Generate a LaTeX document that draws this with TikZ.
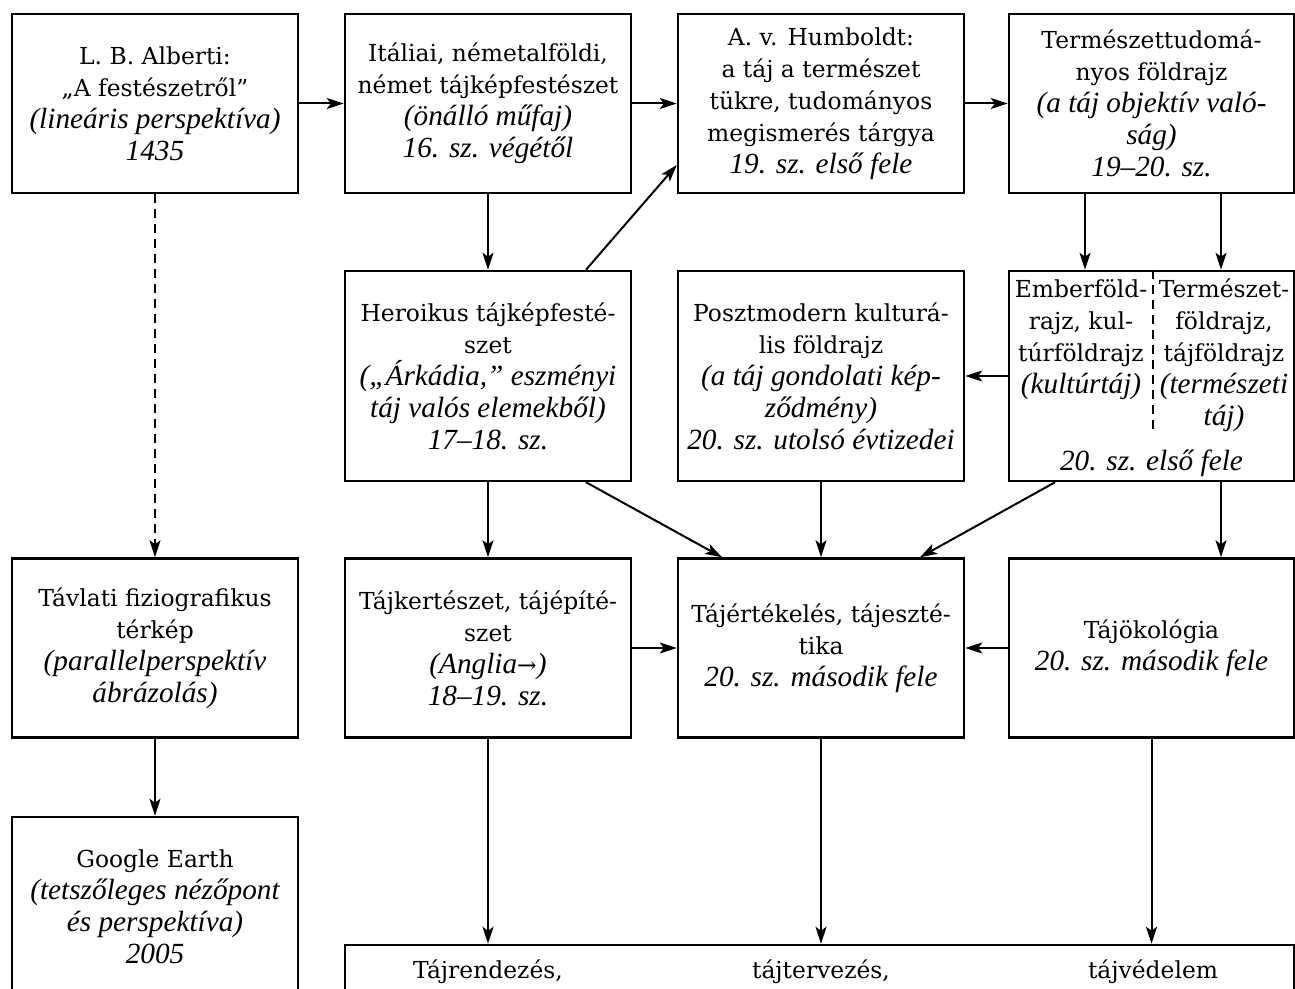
\documentclass[tikz,border=0pt]{standalone}
\usepackage{fontspec}
\setmainfont{DejaVu Serif}
\newfontfamily\itfam{Liberation Serif}[Scale=1.25,Ligatures=TeX]
\newcommand\ital[1]{{\itfam\itshape #1}}
\usetikzlibrary{arrows.meta,calc}
\begin{document}
\begin{tikzpicture}[x=0.5pt,y=-0.5pt,
  font=\fontsize{11.7}{16}\selectfont,
  box/.style={draw, line width=1.25pt, minimum width=143pt, minimum height=89.5pt, align=center, inner sep=0pt},
  tallbox/.style={box, minimum height=105pt},
  txt/.style={align=center, inner sep=0pt},
  arr/.style={line width=1pt, -{Stealth[length=8.5pt,width=5.5pt,inset=2pt]}},
  dashline/.style={dash pattern=on 4.5pt off 3pt}]
\useasboundingbox (0,0) rectangle (1295,989);
\clip (0,0) rectangle (1295,989);
% row 1
\node[box] (A) at (155,103.5) {L. B. Alberti:\\„A festészetről”\\\ital{(lineáris perspektíva)}\\\ital{1435}};
\node[box] (B) at (488,103.5) {Itáliai, németalföldi,\\német tájképfestészet\\\ital{(önálló műfaj)}\\\ital{16. sz. végétől}};
\node[box] (C) at (821,103.5) {A. v. Humboldt:\\a táj a természet\\tükre, tudományos\\megismerés tárgya\\\ital{19. sz. első fele}};
\node[box, minimum width=142.5pt] (D) at (1151.5,103.5) {Természettudomá-\\nyos földrajz\\\ital{(a táj objektív való-}\\\ital{ság)}\\\ital{19–20. sz.}};
% row 2
\node[tallbox] (E) at (488,376) {Heroikus tájképfesté-\\szet\\\ital{(„Árkádia,” eszményi}\\\ital{táj valós elemekből)}\\\ital{17–18. sz.}};
\node[tallbox] (F) at (821,376) {Posztmodern kulturá-\\lis földrajz\\\ital{(a táj gondolati kép-}\\\ital{ződmény)}\\\ital{20. sz. utolsó évtizedei}};
\node[tallbox, minimum width=142.5pt] (G) at (1151.5,376) {};
\node[txt] (Gl) at (1081,339.5) {Emberföld-\\rajz, kul-\\túrföldrajz\\\ital{(kultúrtáj)}};
\node[txt] (Gr) at (1224,355) {Természet-\\földrajz,\\tájföldrajz\\\ital{(természeti}\\\ital{táj)}};
\node[txt] (Gb) at (1151.5,463) {\ital{20. sz. első fele}};
\draw[dashline, line width=1pt] ($(G.north)+(1.5,0)$) coordinate (gtop) -- ($(G.north)+(1.5,164)$) coordinate (gbot);
% row 3
\node[box] (H) at (155,648) {Távlati fiziografikus\\térkép\\\ital{(parallelperspektív}\\\ital{ábrázolás)}};
\node[box] (I) at (488,648) {Tájkertészet, tájépíté-\\szet\\\ital{(Anglia}→\ital{)}\\\ital{18–19. sz.}};
\node[box] (J) at (821,648) {Tájértékelés, tájeszté-\\tika\\\ital{20. sz. második fele}};
\node[box, minimum width=142.5pt] (K) at (1151.5,648) {Tájökológia\\\ital{20. sz. második fele}};
% row 4
\node[box] (L) at (155,906.5) {Google Earth\\\ital{(tetszőleges nézőpont}\\\ital{és perspektíva)}\\\ital{2005}};
\node[draw, line width=1.25pt, minimum width=474.5pt, minimum height=50pt, inner sep=0pt] (M) at (819.5,995) {};
\node[txt] (M1) at (488,972) {Tájrendezés,};
\node[txt] (M2) at (821,972) {tájtervezés,};
\node[txt] (M3) at (1153,972) {tájvédelem};
% arrows
\draw[arr] (A) -- (B);
\draw[arr] (B) -- (C);
\draw[arr] (C) -- (D);
\draw[arr, dashline] (A) -- (H);
\draw[arr] (B) -- (E);
\draw[arr] ($(E.north)+(98,0)$) -- ($(C.west)+(0,61.5)$);
\draw[arr] ($(D.south)+(-66.5,0)$) -- ($(G.north)+(-66.5,0)$);
\draw[arr] ($(D.south)+(69.5,0)$) -- ($(G.north)+(69.5,0)$);
\draw[arr] (G) -- (F);
\draw[arr] (E) -- (I);
\draw[arr] ($(E.south)+(98,0)$) -- ($(J.north)+(-99,0)$);
\draw[arr] (F) -- (J);
\draw[arr] ($(G.south)+(-96.5,0)$) -- ($(J.north)+(99,0)$);
\draw[arr] ($(G.south)+(69.5,0)$) -- ($(K.north)+(69.5,0)$);
\draw[arr] (I) -- (J);
\draw[arr] (K) -- (J);
\draw[arr] (H) -- (L);
\draw[arr] (I.south) -- (I.south |- M.north);
\draw[arr] (J.south) -- (J.south |- M.north);
\draw[arr] (K.south) -- (K.south |- M.north);
\end{tikzpicture}
\end{document}
